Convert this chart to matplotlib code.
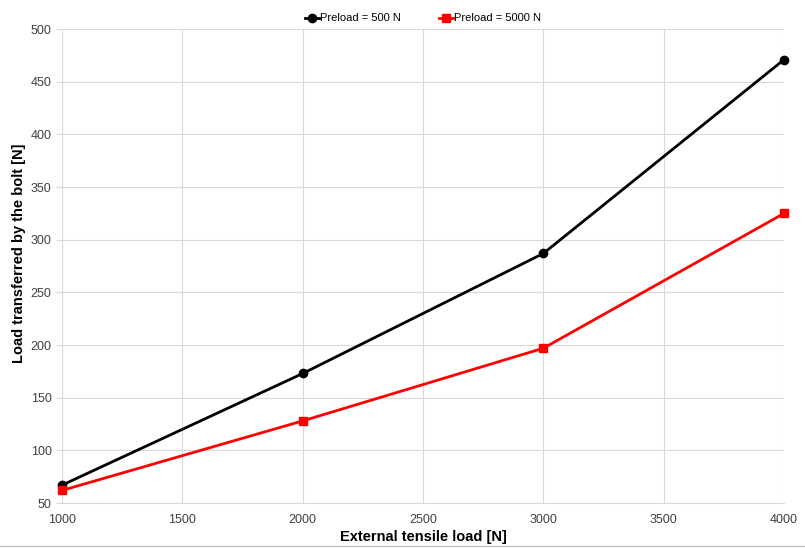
import matplotlib
matplotlib.use('Agg')
import matplotlib.pyplot as plt
from matplotlib.lines import Line2D

plt.rcParams['font.family'] = ['Liberation Sans', 'DejaVu Sans']

load = [1000, 2000, 3000, 4000]
bolt_500 = [67, 173, 287, 471]
bolt_5000 = [62, 128, 197, 325]

fig = plt.figure(figsize=(8.05, 5.48), dpi=100)
ax = fig.add_axes([0.077, 0.082, 0.897, 0.865])

ax.plot(load, bolt_500, color='black', lw=2, marker='o', ms=6, label='Preload = 500 N', clip_on=False)
ax.plot(load, bolt_5000, color='#ff0000', lw=2, marker='s', ms=6, label='Preload = 5000 N', clip_on=False)

ax.set_xlim(1000, 4000)
ax.set_ylim(50, 500)
ax.set_xticks(range(1000, 4001, 500))
ax.set_yticks(range(50, 501, 50))
ax.grid(True, color='#d9d9d9', lw=0.8)
ax.set_axisbelow(True)
for s in ax.spines.values():
    s.set_visible(False)
ax.spines['bottom'].set_visible(True)
ax.spines['bottom'].set_color('#d9d9d9')
ax.tick_params(axis='both', labelsize=9, length=4, color='#d9d9d9')
ax.tick_params(axis='x', length=0, pad=8)
for lbl in ax.get_xticklabels() + ax.get_yticklabels():
    lbl.set_color('#404040')

ax.set_xlabel('External tensile load [N]', fontsize=10.5, fontweight='bold', labelpad=3)
ax.set_ylabel('Load transferred by the bolt [N]', fontsize=10.5, fontweight='bold')
ax.yaxis.set_label_coords(-0.05, 0.527)

ax.legend(loc='lower center', bbox_to_anchor=(0.5, 1.0), ncol=2, frameon=False,
          fontsize=8, handlelength=1.2, handletextpad=0.1, columnspacing=3.5, borderaxespad=0.1)

# thin chart border line at the bottom of the figure
fig.add_artist(Line2D([0, 1], [0.004, 0.004], color='#bfbfbf', lw=1))

fig.savefig('out.png', dpi=100)
